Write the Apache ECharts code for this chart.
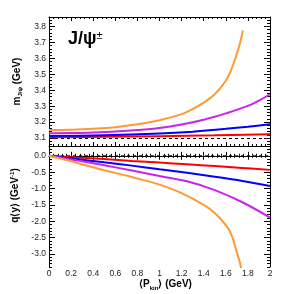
<!DOCTYPE html>
<html><head><meta charset="utf-8">
<script src="https://cdn.jsdelivr.net/npm/echarts@6/dist/echarts.min.js"></script>
<style>html,body{margin:0;padding:0;background:#fff}#c{width:303px;height:294px}</style>
</head><body><div id="c"></div>
<script>
// ---- data ----
const xTicks = [0,0.2,0.4,0.6,0.8,1.0,1.2,1.4,1.6,1.8,2.0];
const mTicks = [3.1,3.2,3.3,3.4,3.5,3.6,3.7,3.8];
const qTicks = [0,-0.5,-1.0,-1.5,-2.0,-2.5,-3.0];
const massRef = 3.097;

const orangeTopX = [0,0.2,0.4,0.6,0.8,1.0,1.2,1.3,1.4,1.5,1.6,1.65,1.7,1.73,1.755];
const orangeTopY = [3.150,3.152,3.158,3.168,3.186,3.212,3.250,3.282,3.322,3.375,3.46,3.53,3.63,3.70,3.775];
const magentaTopX = [0,0.2,0.4,0.6,0.8,1.0,1.2,1.4,1.6,1.8,1.9,2.0];
const magentaTopY = [3.130,3.131,3.135,3.141,3.150,3.163,3.185,3.215,3.255,3.302,3.335,3.375];
const blueTopX = [0,0.5,1.0,1.3,1.6,1.8,2.0];
const blueTopY = [3.113,3.117,3.128,3.140,3.158,3.171,3.186];
const redTopX = [0,0.5,1.0,1.5,2.0];
const redTopY = [3.105,3.108,3.112,3.117,3.123];

const botX = [0,0.25,0.5,0.75,1.0,1.25,1.5,1.75,2.0];
const redBotY = [0,-0.05,-0.10,-0.155,-0.205,-0.26,-0.315,-0.37,-0.43];
const blueBotY = [0,-0.10,-0.20,-0.30,-0.41,-0.52,-0.64,-0.77,-0.92];
const magentaBotY = [0,-0.14,-0.29,-0.45,-0.62,-0.78,-1.05,-1.42,-1.89];
const orangeBotX = [0,0.25,0.5,0.75,1.0,1.2,1.4,1.5,1.6,1.65,1.7,1.73,1.76];
const orangeBotY = [0,-0.21,-0.44,-0.65,-0.88,-1.14,-1.50,-1.75,-2.12,-2.40,-2.95,-3.3,-3.8];

// ---- helpers ----
const zip = (xs, ys) => xs.map((x, i) => [x, ys[i]]);
function minorList(a, b, step) { const r = []; for (let v = a; v <= b + 1e-9; v += step) r.push(+v.toFixed(4)); return r; }

const C = { red:'#ff0000', blue:'#0000ff', magenta:'#cc22ee', orange:'#ff9933' };
const lbl = { fontFamily:'Liberation Sans, Arial, sans-serif', fontSize:8.5, color:'#222' };
const line = { show:true, lineStyle:{ color:'#000', width:1 } };

function xAx(grid, pos, labels, name) {
  return {
    type:'value', gridIndex:grid, position:pos, min:0, max:2, interval:0.2,
    axisLine: line, splitLine:{show:false},
    axisTick:{ show:true, inside:true, length:4, lineStyle:{color:'#000'} },
    minorTick:{ show:true, splitNumber:5, length:2, lineStyle:{color:'#000'} },
    axisLabel:{ show:labels, margin:2, ...lbl, formatter: v => String(+v.toFixed(1)) },
    name: name || '', nameLocation:'middle', nameGap:11,
    nameTextStyle:{ fontFamily:'Liberation Sans, Arial, sans-serif', fontWeight:'bold', fontSize:10, color:'#000',
      padding:[0,0,0,12],
      rich:{ b:{fontWeight:'bold',fontSize:10,color:'#000'}, sub:{fontWeight:'bold',fontSize:6,color:'#000',padding:[7,0,0,0]} } }
  };
}
function yAx(grid, pos, min, max, major, minor, labels, name, padding, rich, gap) {
  return [{
    type:'value', gridIndex:grid, position:pos, min, max,
    axisLine: line, splitLine:{show:false},
    axisTick:{ show:true, inside:true, length:6, customValues:major, lineStyle:{color:'#000'} },
    axisLabel:{ show:labels, customValues:major, margin:3, ...lbl, formatter: v => v.toFixed(1) },
    name: name || '', nameLocation:'middle', nameGap:gap || 26,
    nameTextStyle:{ fontFamily:'Liberation Sans, Arial, sans-serif', fontWeight:'bold', fontSize:10, color:'#000', padding: padding || 0, rich: rich || {} }
  },{
    type:'value', gridIndex:grid, position:pos, min, max,
    axisLine:{show:false}, splitLine:{show:false},
    axisTick:{ show:true, inside:true, length:3, customValues:minor, lineStyle:{color:'#000'} },
    axisLabel:{ show:false }
  }];
}

const mMinor = minorList(3.06, 3.86, 0.02);
const qMinor = minorList(-3.4, 0.3, 0.1);

const yAxes = [
  ...yAx(0,'left',3.05,3.86,mTicks,mMinor,true,'m{sub|J/ψ} (GeV)',0,
     { sub:{fontSize:6,fontWeight:'bold',color:'#000',padding:[6,0,0,0]} }, 26),
  ...yAx(0,'right',3.05,3.86,mTicks,mMinor,false),
  ...yAx(1,'left',-3.4,0.3,qTicks,qMinor,true,'q⟨y⟩ (GeV{sup|-1})',[0,0,0,22],
     { sup:{fontSize:6,fontWeight:'bold',color:'#000',padding:[0,0,6,0]} }, 26),
  ...yAx(1,'right',-3.4,0.3,qTicks,qMinor,false)
];

function ser(data, color, xi, yi, dashed) {
  return { type:'line', xAxisIndex:xi, yAxisIndex:yi, data, symbol:'none', smooth: dashed ? false : 0.4,
    lineStyle:{ color, width: dashed ? 1 : 2, type: dashed ? [3,3] : 'solid' }, silent:true, animation:false, clip:true };
}

const option = {
  animation:false,
  grid:[
    { left:49, right:33, top:17, height:129 },
    { left:49, right:33, top:146, height:121 }
  ],
  xAxis:[ xAx(0,'bottom',false), xAx(0,'top',false), xAx(1,'bottom',true,'⟨{b|P}{sub|kin}⟩ (GeV)'), xAx(1,'top',false) ],
  yAxis: yAxes,
  graphic:[{ type:'text', left:68, top:30, style:{ text:'J/ψ{s|±}', rich:{ s:{fontSize:11, padding:[0,0,7,0], fontFamily:'Liberation Sans, Arial, sans-serif', fill:'#000'} },
    font:'bold 18px Liberation Sans, Arial, sans-serif', fill:'#000' } }],
  series:[
    ser([[0,massRef],[2,massRef]], '#000', 0, 0, true),
    ser(zip(redTopX, redTopY), C.red, 0, 0),
    ser(zip(blueTopX, blueTopY), C.blue, 0, 0),
    ser(zip(magentaTopX, magentaTopY), C.magenta, 0, 0),
    ser(zip(orangeTopX, orangeTopY), C.orange, 0, 0),
    ser([[0,0],[2,0]], '#000', 2, 4, true),
    ser(zip(botX, redBotY), C.red, 2, 4),
    ser(zip(botX, blueBotY), C.blue, 2, 4),
    ser(zip(botX, magentaBotY), C.magenta, 2, 4),
    ser(zip(orangeBotX, orangeBotY), C.orange, 2, 4)
  ]
};
const chart = echarts.init(document.getElementById('c'), null, { renderer:'canvas' });
chart.setOption(option);
</script></body></html>
